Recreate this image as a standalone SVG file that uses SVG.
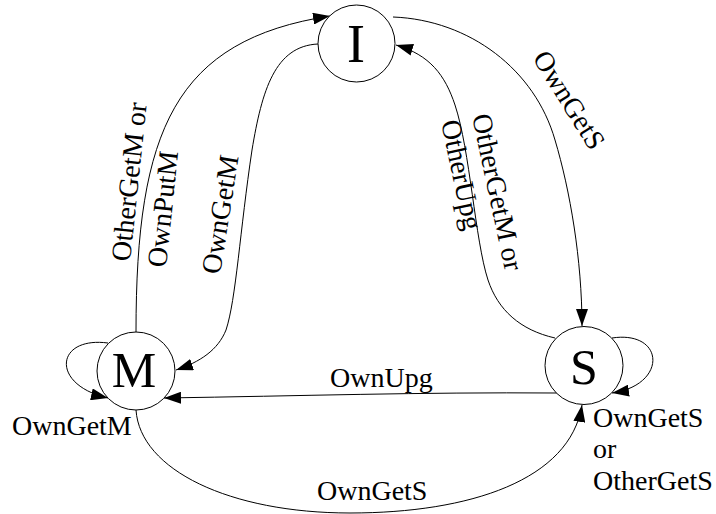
<svg xmlns="http://www.w3.org/2000/svg" width="716" height="514" viewBox="0 0 716 514">
  <style>
    .state { fill: #ffffff; stroke: #000000; stroke-width: 1; }
    .state-label { font-family: "Liberation Serif", "Times New Roman", serif; font-size: 50px; fill: #000000; text-anchor: middle; }
    .edge { fill: none; stroke: #000000; stroke-width: 1; marker-end: url(#arrow); }
    .edge-label { font-family: "Liberation Serif", "Times New Roman", serif; font-size: 28px; fill: #000000; }
  </style>
  <defs>
    <marker id="arrow" markerUnits="userSpaceOnUse" markerWidth="18" markerHeight="12" refX="17" refY="6" orient="auto">
      <path d="M0,0 L17,6 L0,12 z" fill="#000000"/>
    </marker>
  </defs>
  <rect width="716" height="514" fill="#ffffff"/>

  <!-- transitions -->
  <g id="connectors">
    <!-- M -> I : OtherGetM or OwnPutM -->
    <path class="edge" d="M136,332 C136,130 175,40 330,16"/>
    <!-- I -> M : OwnGetM -->
    <path class="edge" d="M318,44 C275,46 262,90 252,150 C240,230 236,300 226,330 C218,350 200,362 176,370"/>
    <!-- I -> S : OwnGetS -->
    <path class="edge" d="M393,17 C470,20 535,70 555,140 C570,190 582,260 582,326"/>
    <!-- S -> I : OtherGetM or OtherUpg -->
    <path class="edge" d="M555,338 C520,330 498,310 488,280 C475,240 470,150 455,105 C445,75 430,55 396,45"/>
    <!-- S -> M : OwnUpg -->
    <path class="edge" d="M557,393 C420,392 300,396 164,398"/>
    <!-- M -> S : OwnGetS -->
    <path class="edge" d="M136,410 C140,470 230,513 350,513 C470,513 570,480 582,405"/>
    <!-- M self loop : OwnGetM -->
    <path class="edge" d="M108,343 C55,336 50,385 108,398"/>
    <!-- S self loop : OwnGetS or OtherGetS -->
    <path class="edge" d="M612,338 C665,330 668,385 612,393"/>

    <!-- transition labels -->
    <text class="edge-label" transform="translate(130,262) rotate(-84)">OtherGetM or</text>
    <text class="edge-label" transform="translate(166,268) rotate(-84)">OwnPutM</text>
    <text class="edge-label" transform="translate(220,275) rotate(-81)">OwnGetM</text>
    <text class="edge-label" transform="translate(532,58) rotate(58)">OwnGetS</text>
    <text class="edge-label" transform="translate(472,116) rotate(78)">OtherGetM or</text>
    <text class="edge-label" transform="translate(441,122) rotate(78)">OtherUpg</text>
    <text class="edge-label" x="330" y="387">OwnUpg</text>
    <text class="edge-label" x="317" y="500">OwnGetS</text>
    <text class="edge-label" x="12" y="435">OwnGetM</text>
    <text class="edge-label" x="593" y="427">OwnGetS</text>
    <text class="edge-label" x="593" y="458">or</text>
    <text class="edge-label" x="593" y="490">OtherGetS</text>
  </g>

  <!-- states -->
  <g id="state-I">
    <circle class="state" cx="356.5" cy="43.5" r="38.5"/>
    <text class="state-label" x="356" y="62" style="font-size:54px">I</text>
  </g>
  <g id="state-M">
    <circle class="state" cx="136" cy="371" r="39"/>
    <text class="state-label" x="134" y="387">M</text>
  </g>
  <g id="state-S">
    <circle class="state" cx="584" cy="365.5" r="39"/>
    <text class="state-label" x="584" y="384">S</text>
  </g>
</svg>
